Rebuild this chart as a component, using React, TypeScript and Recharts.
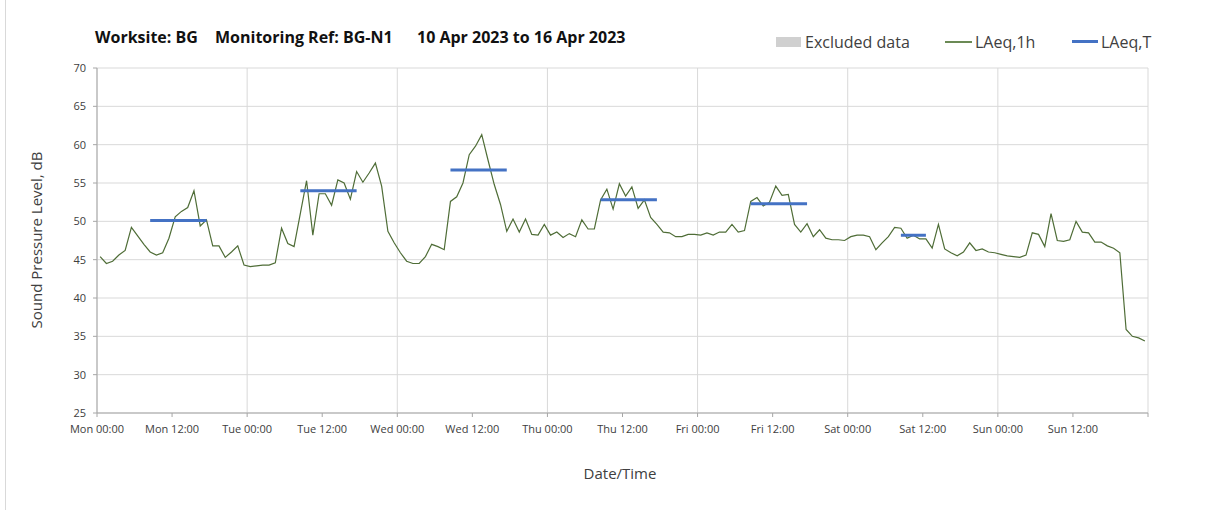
import { LineChart, Line, XAxis, YAxis, CartesianGrid } from "recharts";

// hourly LAeq,1h readings, Mon 00:00 .. Sun 23:00 (plotted at the middle of each hour)
const laeq1h = [
  45.4, 44.5, 44.8, 45.6, 46.2, 49.2, 48.1, 47.0, 46.0, 45.6, 45.9, 47.8,
  50.6, 51.3, 51.8, 54.0, 49.4, 50.2, 46.8, 46.8, 45.3, 46.0, 46.8, 44.3,
  44.1, 44.2, 44.3, 44.3, 44.6, 49.1, 47.1, 46.7, 51.0, 55.3, 48.2, 53.6,
  53.6, 52.1, 55.4, 55.0, 52.9, 56.5, 55.1, 56.3, 57.6, 54.6, 48.7, 47.2,
  45.9, 44.8, 44.5, 44.5, 45.4, 47.0, 46.7, 46.3, 52.6, 53.2, 55.0, 58.7,
  59.8, 61.3, 58.0, 54.8, 52.2, 48.7, 50.3, 48.6, 50.3, 48.3, 48.2, 49.6,
  48.2, 48.6, 47.9, 48.4, 48.0, 50.2, 49.0, 49.0, 52.8, 54.2, 51.6, 54.9,
  53.3, 54.5, 51.7, 52.8, 50.5, 49.6, 48.6, 48.5, 48.0, 48.0, 48.3, 48.3,
  48.2, 48.5, 48.2, 48.6, 48.6, 49.6, 48.6, 48.8, 52.6, 53.1, 52.0, 52.5,
  54.6, 53.4, 53.5, 49.6, 48.6, 49.7, 48.0, 48.9, 47.8, 47.6, 47.6, 47.5,
  48.0, 48.2, 48.2, 48.0, 46.3, 47.2, 48.0, 49.2, 49.1, 47.8, 48.2, 47.7,
  47.7, 46.5, 49.6, 46.4, 45.9, 45.5, 46.0, 47.2, 46.2, 46.4, 46.0, 45.9,
  45.7, 45.5, 45.4, 45.3, 45.6, 48.5, 48.3, 46.7, 51.0, 47.5, 47.4, 47.6,
  50.0, 48.6, 48.5, 47.3, 47.3, 46.8, 46.5, 45.9, 35.9, 35.0, 34.8, 34.4,
];

// LAeq,T working periods: day, first and last hour bin, level
const periodDay = [0, 1, 2, 3, 4, 5];
const periodFirstHour = [8, 8, 8, 8, 8, 8];
const periodLastHour = [17, 17, 17, 17, 17, 12];
const periodLevel = [50.1, 54.0, 56.7, 52.8, 52.3, 48.2];

const dayNames = ["Mon", "Tue", "Wed", "Thu", "Fri", "Sat", "Sun"];
const xTicks = [0, 12, 24, 36, 48, 60, 72, 84, 96, 108, 120, 132, 144, 156, 168];
const dayLines = [0, 24, 48, 72, 96, 120, 144, 168];
const yTicks = [25, 30, 35, 40, 45, 50, 55, 60, 65, 70];

const titleParts = ["Worksite: BG", "Monitoring Ref: BG-N1", "10 Apr 2023 to 16 Apr 2023"];
const legendLabels = ["Excluded data", "LAeq,1h", "LAeq,T"];

const data = laeq1h.map((v, i) => {
  const day = Math.floor(i / 24);
  const h = i % 24;
  const p = periodDay.indexOf(day);
  const inPeriod = p >= 0 && h >= periodFirstHour[p] && h <= periodLastHour[p];
  return { t: i + 0.5, laeq1h: v, laeqT: inPeriod ? periodLevel[p] : null };
});

const FONT = "'Open Sans', sans-serif";
const GREEN = "#4f6d37";
const BLUE = "#4472c4";

const fmtTick = (t: number) => {
  if (t >= 168) return "";
  return `${dayNames[Math.floor(t / 24)]} ${t % 24 === 0 ? "00:00" : "12:00"}`;
};

function LegendBox() {
  const text = { position: "absolute" as const, top: 31, fontSize: 16, color: "#404040", whiteSpace: "nowrap" as const };
  return (
    <>
      <div style={{ position: "absolute", left: 776, top: 37, width: 25, height: 10, background: "#d0d0d0" }} />
      <div style={{ ...text, left: 805 }}>{legendLabels[0]}</div>
      <div style={{ position: "absolute", left: 945, top: 41, width: 27, height: 1.5, background: "#6b8a55" }} />
      <div style={{ ...text, left: 975 }}>{legendLabels[1]}</div>
      <div style={{ position: "absolute", left: 1072, top: 40, width: 26, height: 3, background: BLUE }} />
      <div style={{ ...text, left: 1101 }}>{legendLabels[2]}</div>
    </>
  );
}

export default function App() {
  const title = { position: "absolute" as const, top: 26, fontSize: 16, fontWeight: 700, color: "#111", whiteSpace: "nowrap" as const };
  return (
    <div style={{ position: "absolute", left: 0, top: 0, width: 1208, height: 510, background: "#fff", fontFamily: FONT }}>
      <div style={{ position: "absolute", left: 5, top: 0, width: 1, height: 510, background: "#d9d9d9" }} />
      {/* title */}
      <div style={{ ...title, left: 95 }}>{titleParts[0]}</div>
      <div style={{ ...title, left: 215 }}>{titleParts[1]}</div>
      <div style={{ ...title, left: 417 }}>{titleParts[2]}</div>
      <LegendBox />
      {/* y axis title */}
      <div
        style={{
          position: "absolute", left: 36, top: 240, fontSize: 15, color: "#404040", whiteSpace: "nowrap",
          transform: "translate(-50%, -50%) rotate(-90deg)",
        }}
      >
        Sound Pressure Level, dB
      </div>
      {/* x axis title */}
      <div style={{ position: "absolute", left: 620, top: 473, fontSize: 15, color: "#404040", transform: "translate(-50%, -50%)" }}>
        Date/Time
      </div>
      <LineChart width={1208} height={510} data={data} margin={{ top: 68, right: 60, bottom: 0, left: 0 }}>
        <CartesianGrid stroke="#d9d9d9" horizontal={true} vertical={true} verticalValues={dayLines} />
        <XAxis
          dataKey="t"
          type="number"
          domain={[0, 168]}
          ticks={xTicks}
          tickFormatter={fmtTick}
          interval={0}
          height={97}
          stroke="#a6a6a6"
          tickSize={4}
          tickMargin={8}
          tick={{ fontSize: 11, fill: "#404040", fontFamily: FONT }}
        />
        <YAxis
          type="number"
          domain={[25, 70]}
          ticks={yTicks}
          interval={0}
          width={97}
          stroke="#a6a6a6"
          tickSize={4}
          tickMargin={7}
          tick={{ fontSize: 11, fill: "#404040", fontFamily: FONT }}
        />
        <Line
          type="linear"
          dataKey="laeq1h"
          name="LAeq,1h"
          stroke={GREEN}
          strokeWidth={1.2}
          dot={false}
          isAnimationActive={false}
        />
        <Line
          type="linear"
          dataKey="laeqT"
          name="LAeq,T"
          stroke={BLUE}
          strokeWidth={3}
          dot={false}
          connectNulls={false}
          isAnimationActive={false}
        />
      </LineChart>
    </div>
  );
}
